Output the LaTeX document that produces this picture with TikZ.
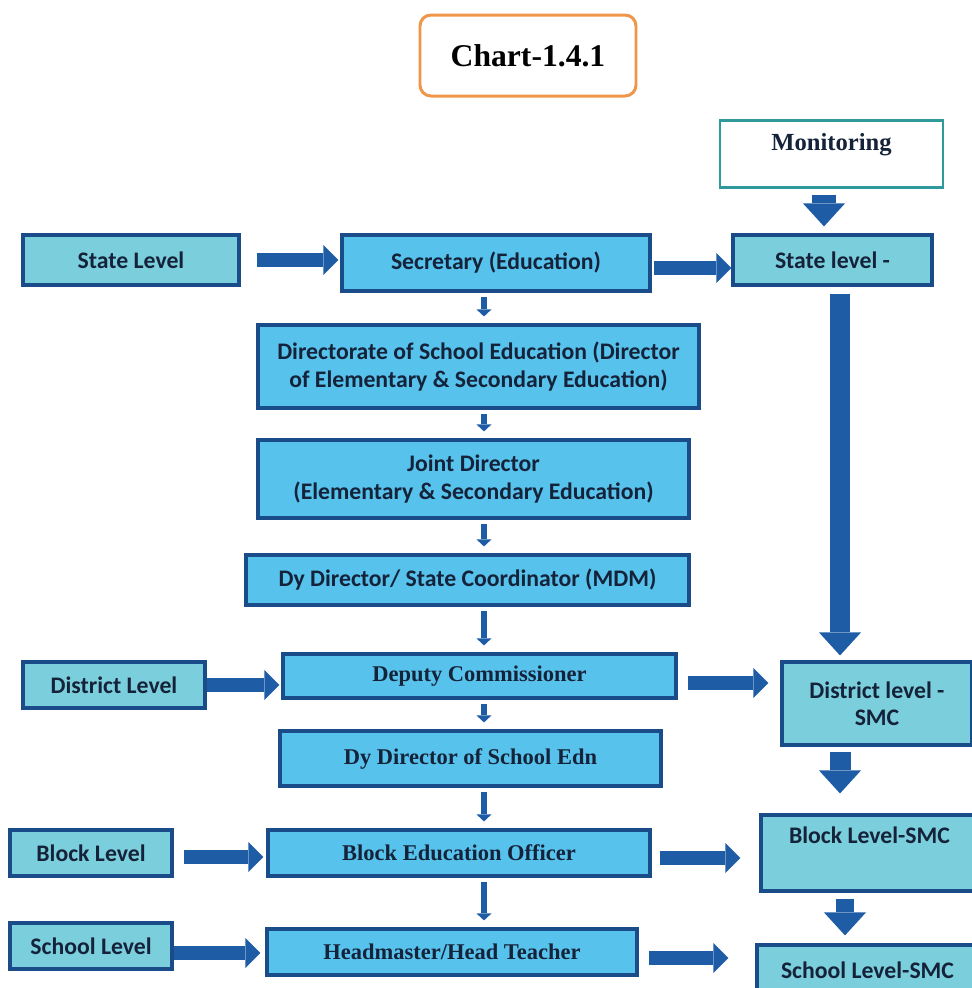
\documentclass[tikz,border=0pt]{standalone}
\usepackage{fontspec}
\setmainfont{Liberation Serif}
\newfontfamily\calib{Carlito}
\usetikzlibrary{arrows.meta}

\definecolor{lvlfill}{HTML}{7BCEDC}
\definecolor{mainfill}{HTML}{57C2EC}
\definecolor{boxline}{HTML}{1B4C8A}
\definecolor{arrblue}{HTML}{1E5CA6}
\definecolor{monline}{HTML}{2F9A9C}
\definecolor{chartline}{HTML}{F0964A}
\definecolor{txt}{HTML}{15233A}

\tikzset{
  lvl/.style={draw=boxline, line width=1.8pt, fill=lvlfill, text=txt, align=center,
    inner sep=2pt, font=\calib\bfseries\fontsize{13.5}{15.5}\selectfont},
  main/.style={lvl, fill=mainfill},
  mainser/.style={main, font=\bfseries\fontsize{12.8}{15}\selectfont},
  harr/.style={arrblue, line width=0.28cm, -{Triangle[length=0.3cm, width=0.6cm, line width=0pt]}},
  varr/.style={arrblue, line width=0.12cm, shorten <=0.08cm, shorten >=0.14cm,
    -{Triangle[length=0.14cm, width=0.3cm, line width=0pt]}},
  fatarr/.style={arrblue, line width=0.42cm, -{Triangle[length=0.46cm, width=0.84cm, line width=0pt]}},
}

\begin{document}
\begin{tikzpicture}
  \clip (0,0) rectangle (19.44,-19.76);

  % title
  \node[draw=chartline, line width=1.7pt, rounded corners=0.22cm, minimum width=4.32cm,
    minimum height=1.62cm, font=\bfseries\fontsize{18}{20}\selectfont] (chart) at (10.56,-1.11) {Chart-1.4.1};

  % monitoring column
  \node[draw=monline, line width=1.7pt, fill=white, minimum width=4.46cm, minimum height=1.34cm] (mon) at (16.63,-3.07) {};
  \node[text=txt, font=\bfseries\fontsize{14}{16}\selectfont] (montxt) at ([yshift=-0.52cm]mon.north) {Monitoring};
  \node[lvl, minimum width=3.98cm, minimum height=1cm] (stsmc) at (16.65,-5.2) {State level -};
  \node[lvl, minimum width=3.8cm, minimum height=1.66cm] (distsmc) at (17.54,-14.07) {District level -\\SMC};
  \node[lvl, minimum width=4.34cm, minimum height=1.52cm] (blsmc) at (17.39,-17.06) {};
  \node[text=txt, font=\calib\bfseries\fontsize{13.5}{15.5}\selectfont] (blsmctxt) at ([yshift=-0.44cm]blsmc.north) {Block Level-SMC};
  \node[lvl, minimum width=4.42cm, minimum height=1cm] (schsmc) at (17.35,-19.4) {School Level-SMC};

  % levels
  \node[lvl, minimum width=4.32cm, minimum height=1cm] (stlev) at (2.62,-5.2) {State Level};
  \node[lvl, minimum width=3.64cm, minimum height=0.92cm] (distlev) at (2.28,-13.7) {District Level};
  \node[lvl, minimum width=3.24cm, minimum height=0.92cm] (blev) at (1.82,-17.06) {Block Level};
  \node[lvl, minimum width=3.24cm, minimum height=0.92cm] (schlev) at (1.82,-18.92) {School Level};

  % hierarchy
  \node[main, minimum width=6.16cm, minimum height=1.12cm] (sec) at (9.92,-5.26) {Secretary (Education)};
  \node[main, minimum width=8.82cm, minimum height=1.66cm] (dse) at (9.57,-7.33)
    {Directorate of School Education (Director\\of Elementary \& Secondary Education)};
  \node[main, minimum width=8.62cm, minimum height=1.56cm] (jd) at (9.47,-9.58)
    {Joint Director\\(Elementary \& Secondary Education)};
  \node[main, minimum width=8.86cm, minimum height=1cm] (ddsc) at (9.35,-11.6) {Dy Director/ State Coordinator (MDM)};
  \node[mainser, minimum width=7.86cm, minimum height=0.88cm] (dc) at (9.59,-13.52) {Deputy Commissioner};
  \node[mainser, minimum width=7.62cm, minimum height=1.1cm] (ddse) at (9.41,-15.17) {Dy Director of School Edn};
  \node[mainser, minimum width=7.64cm, minimum height=0.92cm] (beo) at (9.18,-17.06) {Block Education Officer};
  \node[mainser, minimum width=7.4cm, minimum height=0.92cm] (hm) at (9.04,-19.04) {Headmaster/Head Teacher};

  \coordinate (spine) at (9.68,0);
  \foreach \a/\b in {sec/dse, dse/jd, jd/ddsc, ddsc/dc, dc/ddse, ddse/beo, beo/hm}
    \draw[varr] (\a.south -| spine) -- (\b.north -| spine);

  % arrows into the hierarchy and out to the SMCs
  \draw[harr, shorten <=0.32cm, shorten >=0.04cm] (stlev.east) -- (stlev.east -| sec.west);
  \draw[harr, shorten <=0.04cm] ([yshift=-0.1cm]sec.east) -- ([yshift=-0.1cm]sec.east -| stsmc.west);
  \draw[harr, shorten >=0.04cm] (distlev.east) -- (distlev.east -| dc.west);
  \draw[harr, shorten <=0.2cm, shorten >=0.24cm] ([yshift=-0.14cm]dc.east) -- ([yshift=-0.14cm]dc.east -| distsmc.west);
  \draw[harr, shorten <=0.2cm, shorten >=0.06cm] ([yshift=-0.08cm]blev.east) -- ([yshift=-0.08cm]blev.east -| beo.west);
  \draw[harr, shorten <=0.16cm, shorten >=0.38cm] ([yshift=-0.1cm]beo.east) -- ([yshift=-0.1cm]beo.east -| blsmc.west);
  \draw[harr, shorten >=0.1cm] ([yshift=-0.14cm]schlev.east) -- ([yshift=-0.14cm]schlev.east -| hm.west);
  \draw[harr, shorten <=0.2cm, shorten >=0.54cm] ([yshift=-0.12cm]hm.east) -- ([yshift=-0.12cm]hm.east -| schsmc.west);

  % monitoring chain
  \draw[fatarr, line width=0.48cm, shorten <=0.12cm, shorten >=0.14cm] ([xshift=-0.15cm]mon.south) -- ([xshift=-0.15cm]mon.south |- stsmc.north);
  \draw[fatarr, line width=0.4cm, shorten <=0.14cm, shorten >=0.1cm] ([xshift=0.15cm]stsmc.south) -- ([xshift=0.15cm]stsmc.south |- distsmc.north);
  \draw[fatarr, shorten <=0.1cm, shorten >=0.4cm] ([xshift=-0.74cm]distsmc.south) -- ([xshift=-0.74cm]distsmc.south |- blsmc.north);
  \draw[fatarr, line width=0.36cm, shorten <=0.12cm, shorten >=0.16cm] ([xshift=-0.49cm]blsmc.south) -- ([xshift=-0.49cm]blsmc.south |- schsmc.north);
\end{tikzpicture}
\end{document}
